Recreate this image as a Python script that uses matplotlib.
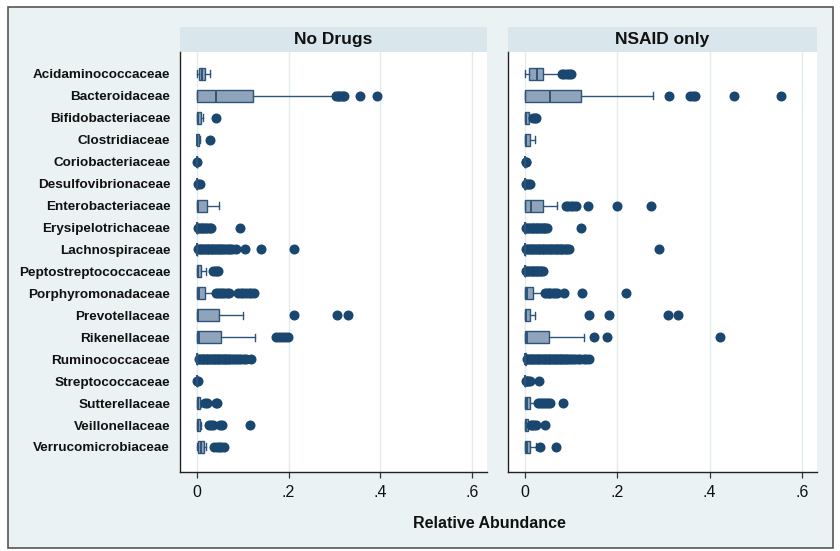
import matplotlib
matplotlib.use("Agg")
import matplotlib.pyplot as plt
from matplotlib.patches import Rectangle

plt.rcParams['font.family'] = ['Liberation Sans', 'DejaVu Sans']

categories = [
    "Acidaminococcaceae", "Bacteroidaceae", "Bifidobacteriaceae", "Clostridiaceae",
    "Coriobacteriaceae", "Desulfovibrionaceae", "Enterobacteriaceae",
    "Erysipelotrichaceae", "Lachnospiraceae", "Peptostreptococcaceae",
    "Porphyromonadaceae", "Prevotellaceae", "Rikenellaceae", "Ruminococcaceae",
    "Streptococcaceae", "Sutterellaceae", "Veillonellaceae", "Verrucomicrobiaceae",
]
panel_titles = ["No Drugs", "NSAID only"]
x_ticks = [0, 0.2, 0.4, 0.6]
x_tick_labels = ["0", ".2", ".4", ".6"]
x_label = "Relative Abundance"

# ---- No Drugs ----
nd_q1 = [0.005, 0.001, 0.0, 0.0, 0.0, 0.0, 0.0, 0.0, 0.0, 0.0, 0.0, 0.0, 0.0, 0.0, 0.0, 0.0, 0.0, 0.002]
nd_med = [0.0115, 0.0415, 0.003, 0.001, 0.0, 0.0, 0.002, 0.0, 0.0, 0.002, 0.004, 0.003, 0.004, 0.0, 0.0, 0.002, 0.002, 0.008]
nd_q3 = [0.0175, 0.122, 0.009, 0.004, 0.0, 0.0, 0.0225, 0.0, 0.0, 0.009, 0.018, 0.049, 0.053, 0.001, 0.0, 0.006, 0.006, 0.016]
nd_lo = [0.0] * 18
nd_hi = [0.029, 0.300, 0.014, 0.006, 0.0, 0.0, 0.049, 0.0, 0.0, 0.020, 0.038, 0.100, 0.127, 0.002, 0.0, 0.009, 0.008, 0.020]
nd_out = [
    [],
    [0.303, 0.307, 0.311, 0.315, 0.319, 0.322, 0.355, 0.394],
    [0.042],
    [0.028],
    [0.0005],
    [0.003, 0.006],
    [],
    [0.002, 0.005, 0.008, 0.011, 0.014, 0.017, 0.020, 0.024, 0.028, 0.031, 0.093],
    [0.003, 0.006, 0.009, 0.012, 0.015, 0.018, 0.021, 0.024, 0.027, 0.030, 0.033,
     0.036, 0.039, 0.042, 0.045, 0.048, 0.051, 0.054, 0.057, 0.061, 0.065, 0.069,
     0.073, 0.076, 0.086, 0.104, 0.140, 0.212],
    [0.035, 0.039, 0.043, 0.046],
    [0.042, 0.046, 0.050, 0.055, 0.060, 0.065, 0.071, 0.090, 0.096, 0.101, 0.107,
     0.113, 0.119, 0.125],
    [0.212, 0.306, 0.329],
    [0.173, 0.180, 0.186, 0.193, 0.199],
    [0.004, 0.007, 0.010, 0.013, 0.016, 0.019, 0.022, 0.025, 0.028, 0.031, 0.034,
     0.037, 0.040, 0.043, 0.046, 0.049, 0.052, 0.055, 0.058, 0.061, 0.064, 0.067,
     0.070, 0.074, 0.078, 0.082, 0.087, 0.092, 0.097, 0.102, 0.108, 0.117],
    [0.001, 0.002],
    [0.018, 0.022, 0.041, 0.044],
    [0.026, 0.031, 0.034, 0.051, 0.054, 0.115],
    [0.038, 0.043, 0.048, 0.053, 0.058],
]

# ---- NSAID only ----
ns_q1 = [0.0087, 0.0, 0.0, 0.0, 0.0, 0.0, 0.0, 0.0, 0.0, 0.0, 0.0, 0.0, 0.0, 0.0, 0.0, 0.0, 0.0, 0.0]
ns_med = [0.025, 0.054, 0.002, 0.003, 0.0, 0.0, 0.012, 0.0, 0.0, 0.0, 0.005, 0.002, 0.004, 0.0, 0.0, 0.004, 0.002, 0.004]
ns_q3 = [0.038, 0.121, 0.0085, 0.0105, 0.0, 0.0, 0.038, 0.0, 0.0, 0.0, 0.018, 0.0105, 0.052, 0.001, 0.0, 0.011, 0.006, 0.011]
ns_lo = [0.0] * 18
ns_hi = [0.078, 0.277, 0.0085, 0.021, 0.0, 0.0, 0.070, 0.0, 0.0, 0.0, 0.041, 0.021, 0.127, 0.002, 0.0, 0.025, 0.006, 0.023]
ns_out = [
    [0.080, 0.085, 0.090, 0.095, 0.100],
    [0.313, 0.358, 0.364, 0.369, 0.453, 0.555],
    [0.018, 0.021, 0.024],
    [],
    [0.001, 0.002],
    [0.002, 0.005, 0.008, 0.011],
    [0.089, 0.094, 0.099, 0.104, 0.110, 0.137, 0.200, 0.274],
    [0.002, 0.005, 0.008, 0.011, 0.014, 0.017, 0.020, 0.023, 0.026, 0.029, 0.032,
     0.035, 0.038, 0.041, 0.044, 0.047, 0.121],
    [0.003, 0.006, 0.009, 0.012, 0.015, 0.018, 0.021, 0.024, 0.027, 0.030, 0.033,
     0.036, 0.039, 0.042, 0.045, 0.048, 0.051, 0.054, 0.057, 0.060, 0.063, 0.066,
     0.069, 0.072, 0.075, 0.078, 0.081, 0.084, 0.088, 0.092, 0.096, 0.290],
    [0.002, 0.005, 0.008, 0.011, 0.014, 0.017, 0.020, 0.023, 0.026, 0.029, 0.032,
     0.035, 0.038],
    [0.043, 0.047, 0.051, 0.055, 0.060, 0.065, 0.070, 0.085, 0.123, 0.219],
    [0.139, 0.183, 0.311, 0.332],
    [0.149, 0.178, 0.422],
    [0.004, 0.007, 0.010, 0.013, 0.016, 0.019, 0.022, 0.025, 0.028, 0.031, 0.034,
     0.037, 0.040, 0.043, 0.046, 0.049, 0.052, 0.055, 0.058, 0.061, 0.064, 0.067,
     0.070, 0.073, 0.076, 0.079, 0.082, 0.085, 0.088, 0.091, 0.095, 0.099, 0.104,
     0.109, 0.114, 0.120, 0.127, 0.133, 0.139],
    [0.001, 0.004, 0.007, 0.010, 0.030],
    [0.028, 0.032, 0.036, 0.040, 0.045, 0.050, 0.054, 0.083],
    [0.012, 0.016, 0.020, 0.024, 0.043],
    [0.032, 0.067],
]

panels = [
    (nd_q1, nd_med, nd_q3, nd_lo, nd_hi, nd_out),
    (ns_q1, ns_med, ns_q3, ns_lo, ns_hi, ns_out),
]

NAVY = "#1a476f"
BOX_EDGE = "#2e5479"
BOX_FILL = "#8fa4ba"
OUTER_BG = "#eaf2f3"
STRIP_BG = "#d9e6eb"
GRID = "#e2ecef"

W, H = 840, 551
fig = plt.figure(figsize=(W / 100, H / 100), dpi=100, facecolor="white")

# outer frame
fig.patches.append(Rectangle((8 / W, 1 - 548 / H), (833 - 8) / W, (548 - 7) / H,
                             transform=fig.transFigure, facecolor=OUTER_BG,
                             edgecolor="#555555", linewidth=1.2, zorder=-10))

ax_left_px = [180, 508]
ax_right_px = [487, 817]
top_px, bot_px, strip_top_px = 52, 472, 27

positions = list(range(1, len(categories) + 1))

for i, (q1, med, q3, lo, hi, out) in enumerate(panels):
    x0 = ax_left_px[i] / W
    w = (ax_right_px[i] - ax_left_px[i]) / W
    y0 = 1 - bot_px / H
    h = (bot_px - top_px) / H
    ax = fig.add_axes([x0, y0, w, h])
    ax.set_facecolor("white")

    stats = []
    for k in range(len(categories)):
        stats.append(dict(q1=q1[k], med=med[k], q3=q3[k], whislo=lo[k],
                          whishi=hi[k], fliers=out[k], label=categories[k]))

    ax.bxp(stats, positions=positions, vert=False, widths=0.55, capwidths=0.32,
           patch_artist=True, showfliers=True,
           boxprops=dict(facecolor=BOX_FILL, edgecolor=BOX_EDGE, linewidth=1.0),
           medianprops=dict(color=BOX_EDGE, linewidth=1.4),
           whiskerprops=dict(color=BOX_EDGE, linewidth=1.0),
           capprops=dict(color=BOX_EDGE, linewidth=1.0),
           flierprops=dict(marker="o", markerfacecolor=NAVY, markeredgecolor=NAVY,
                           markersize=6.2, linestyle="none"))

    ax.set_xlim(-0.037, 0.633)
    ax.set_ylim(19.14, 0.0)
    ax.set_xticks(x_ticks)
    ax.set_xticklabels(x_tick_labels, fontsize=11.5)
    ax.tick_params(axis="x", direction="out", length=4.5, width=0.9,
                   color="#333333", pad=5, labelcolor="#111111")
    for xt in x_ticks:
        ax.axvline(xt, color=GRID, linewidth=1.0, zorder=0)

    if i == 0:
        ax.set_yticks(positions)
        ax.set_yticklabels(categories, fontsize=9.7, fontweight="bold",
                           color="#111111")
        ax.tick_params(axis="y", length=0, pad=7)
    else:
        ax.set_yticks([])

    for side in ("top", "right"):
        ax.spines[side].set_visible(False)
    for side in ("left", "bottom"):
        ax.spines[side].set_color("#222222")
        ax.spines[side].set_linewidth(1.0)

    # panel title strip
    fig.patches.append(Rectangle((x0, 1 - top_px / H), w,
                                 (top_px - strip_top_px) / H,
                                 transform=fig.transFigure, facecolor=STRIP_BG,
                                 edgecolor="none", zorder=-5))
    fig.text(x0 + w / 2, 1 - (top_px + strip_top_px) / 2 / H, panel_titles[i],
             ha="center", va="center", fontsize=12.5, fontweight="bold",
             color="#111111")

fig.text(489 / W, 1 - 524 / H, x_label, ha="center", va="center",
         fontsize=11.5, fontweight="bold", color="#111111")

fig.savefig("out.png", dpi=100, facecolor="white")
